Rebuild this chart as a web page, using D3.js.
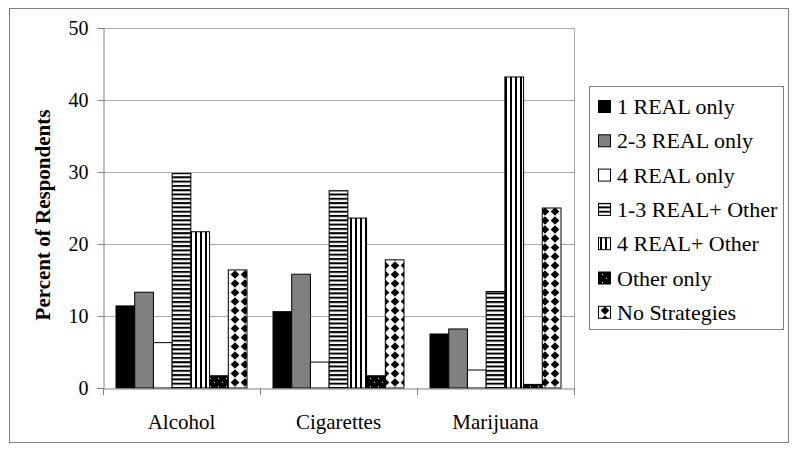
<!DOCTYPE html>
<html><head><meta charset="utf-8">
<script src="https://cdn.jsdelivr.net/npm/d3@7/dist/d3.min.js"></script>
<style>body{margin:0;background:#fff}svg{display:block}</style>
</head><body><svg id="c" width="800" height="455"></svg>
<script>
const categories = ["Alcohol", "Cigarettes", "Marijuana"];
const seriesNames = ["1 REAL only", "2-3 REAL only", "4 REAL only", "1-3 REAL+ Other", "4 REAL+ Other", "Other only", "No Strategies"];
const real1 = [11.4, 10.6, 7.5];
const real23 = [13.3, 15.8, 8.2];
const real4 = [6.3, 3.6, 2.5];
const real13Other = [29.8, 27.4, 13.4];
const real4Other = [21.7, 23.6, 43.2];
const otherOnly = [1.7, 1.7, 0.5];
const noStrategies = [16.4, 17.8, 25.0];
const yTicks = [0, 10, 20, 30, 40, 50];

const seriesValues = [real1, real23, real4, real13Other, real4Other, otherOnly, noStrategies];
const fills = ["#000", "#808080", "#fff", "url(#hstripe)", "url(#vstripe)", "url(#dots)", "url(#diam)"];

const svg = d3.select("#c");
const font = "Liberation Serif, Times New Roman, serif";

// patterns
const defs = svg.append("defs");
const hp = defs.append("pattern").attr("id","hstripe").attr("patternUnits","userSpaceOnUse").attr("width",8).attr("height",4.3);
hp.append("rect").attr("width",8).attr("height",4.3).attr("fill","#fff");
hp.append("rect").attr("width",8).attr("height",2).attr("fill","#000");
const vp = defs.append("pattern").attr("id","vstripe").attr("patternUnits","userSpaceOnUse").attr("width",5).attr("height",8);
vp.append("rect").attr("width",5).attr("height",8).attr("fill","#fff");
vp.append("rect").attr("width",2).attr("height",8).attr("fill","#000");
const dp = defs.append("pattern").attr("id","dots").attr("patternUnits","userSpaceOnUse").attr("width",8).attr("height",8);
dp.append("rect").attr("width",8).attr("height",8).attr("fill","#000");
dp.append("rect").attr("x",2).attr("y",2).attr("width",1).attr("height",1).attr("fill","#fff");
dp.append("rect").attr("x",6).attr("y",6).attr("width",1).attr("height",1).attr("fill","#fff");
const mp = defs.append("pattern").attr("id","diam").attr("patternUnits","userSpaceOnUse").attr("width",10).attr("height",9);
mp.append("rect").attr("width",10).attr("height",9).attr("fill","#fff");
mp.append("path").attr("d","M5,0.3 L9.3,4.5 L5,8.7 L0.7,4.5 Z").attr("fill","#000");

// outer border
svg.append("rect").attr("x",9.5).attr("y",8.5).attr("width",779).attr("height",434)
  .attr("fill","none").attr("stroke","#808080");

const x0 = 103, x1 = 574, yTop = 28, yBot = 388;
const x = d3.scaleBand().domain(categories).range([x0, x1]).padding(0);
const y = d3.scaleLinear().domain([0, 50]).range([yBot, yTop]);
const margin = 13;
const xs = d3.scaleBand().domain(d3.range(seriesNames.length)).range([margin, x.bandwidth() - margin]).padding(0);

// gridlines
svg.append("g").selectAll("line").data(yTicks.filter(d => d > 0)).join("line")
  .attr("x1", x0).attr("x2", x1).attr("y1", d => Math.round(y(d)) + 0.5).attr("y2", d => Math.round(y(d)) + 0.5)
  .attr("stroke", "#a8a8a8");
// right border
svg.append("line").attr("x1", x1 + 0.5).attr("x2", x1 + 0.5).attr("y1", yTop).attr("y2", yBot).attr("stroke", "#a8a8a8");

// bars
const g = svg.append("g");
categories.forEach((c, ci) => {
  seriesValues.forEach((vals, si) => {
    const v = vals[ci];
    g.append("rect")
      .attr("x", x(c) + xs(si))
      .attr("y", y(v))
      .attr("width", xs.bandwidth())
      .attr("height", yBot - y(v))
      .attr("fill", fills[si])
      .attr("stroke", "#000").attr("stroke-width", 1);
  });
});

// y axis
const yAxis = d3.axisLeft(y).tickValues(yTicks).tickSize(6).tickPadding(9);
const ya = svg.append("g").attr("transform", `translate(${x0 + 0.5},0)`).call(yAxis);
ya.attr("font-family", font).attr("font-size", 20);
ya.select(".domain").attr("stroke", "#808080");
ya.selectAll(".tick line").attr("stroke", "#808080");
ya.selectAll(".tick text").attr("fill", "#000");

// x axis
const xa = svg.append("g").attr("transform", `translate(0,${yBot + 0.5})`).call(d3.axisBottom(x).tickSize(0).tickPadding(26));
xa.attr("font-family", font).attr("font-size", 21);
xa.select(".domain").attr("stroke", "#808080");
xa.selectAll(".tick text").attr("fill", "#000");
// category separators
const seps = categories.map(c => x(c)).concat([x1]);
svg.append("g").selectAll("line").data(seps).join("line")
  .attr("x1", d => Math.round(d) + 0.5).attr("x2", d => Math.round(d) + 0.5)
  .attr("y1", yBot).attr("y2", yBot + 7).attr("stroke", "#808080");

// y title
svg.append("text").attr("transform", "translate(50,215) rotate(-90)")
  .attr("text-anchor", "middle").attr("font-family", font).attr("font-weight", "bold")
  .attr("font-size", 21).text("Percent of Respondents");

// legend
const lg = svg.append("g");
lg.append("rect").attr("x", 589.5).attr("y", 86.5).attr("width", 194).attr("height", 243)
  .attr("fill", "#fff").attr("stroke", "#808080");
seriesNames.forEach((n, i) => {
  const cy = 107 + i * 34.3;
  lg.append("rect").attr("x", 598.5).attr("y", cy - 6.5).attr("width", 12).attr("height", 12)
    .attr("fill", fills[i]).attr("stroke", "#000");
  lg.append("text").attr("x", 617).attr("y", cy + 7).attr("font-family", font)
    .attr("font-size", 22).text(n);
});
</script></body></html>
